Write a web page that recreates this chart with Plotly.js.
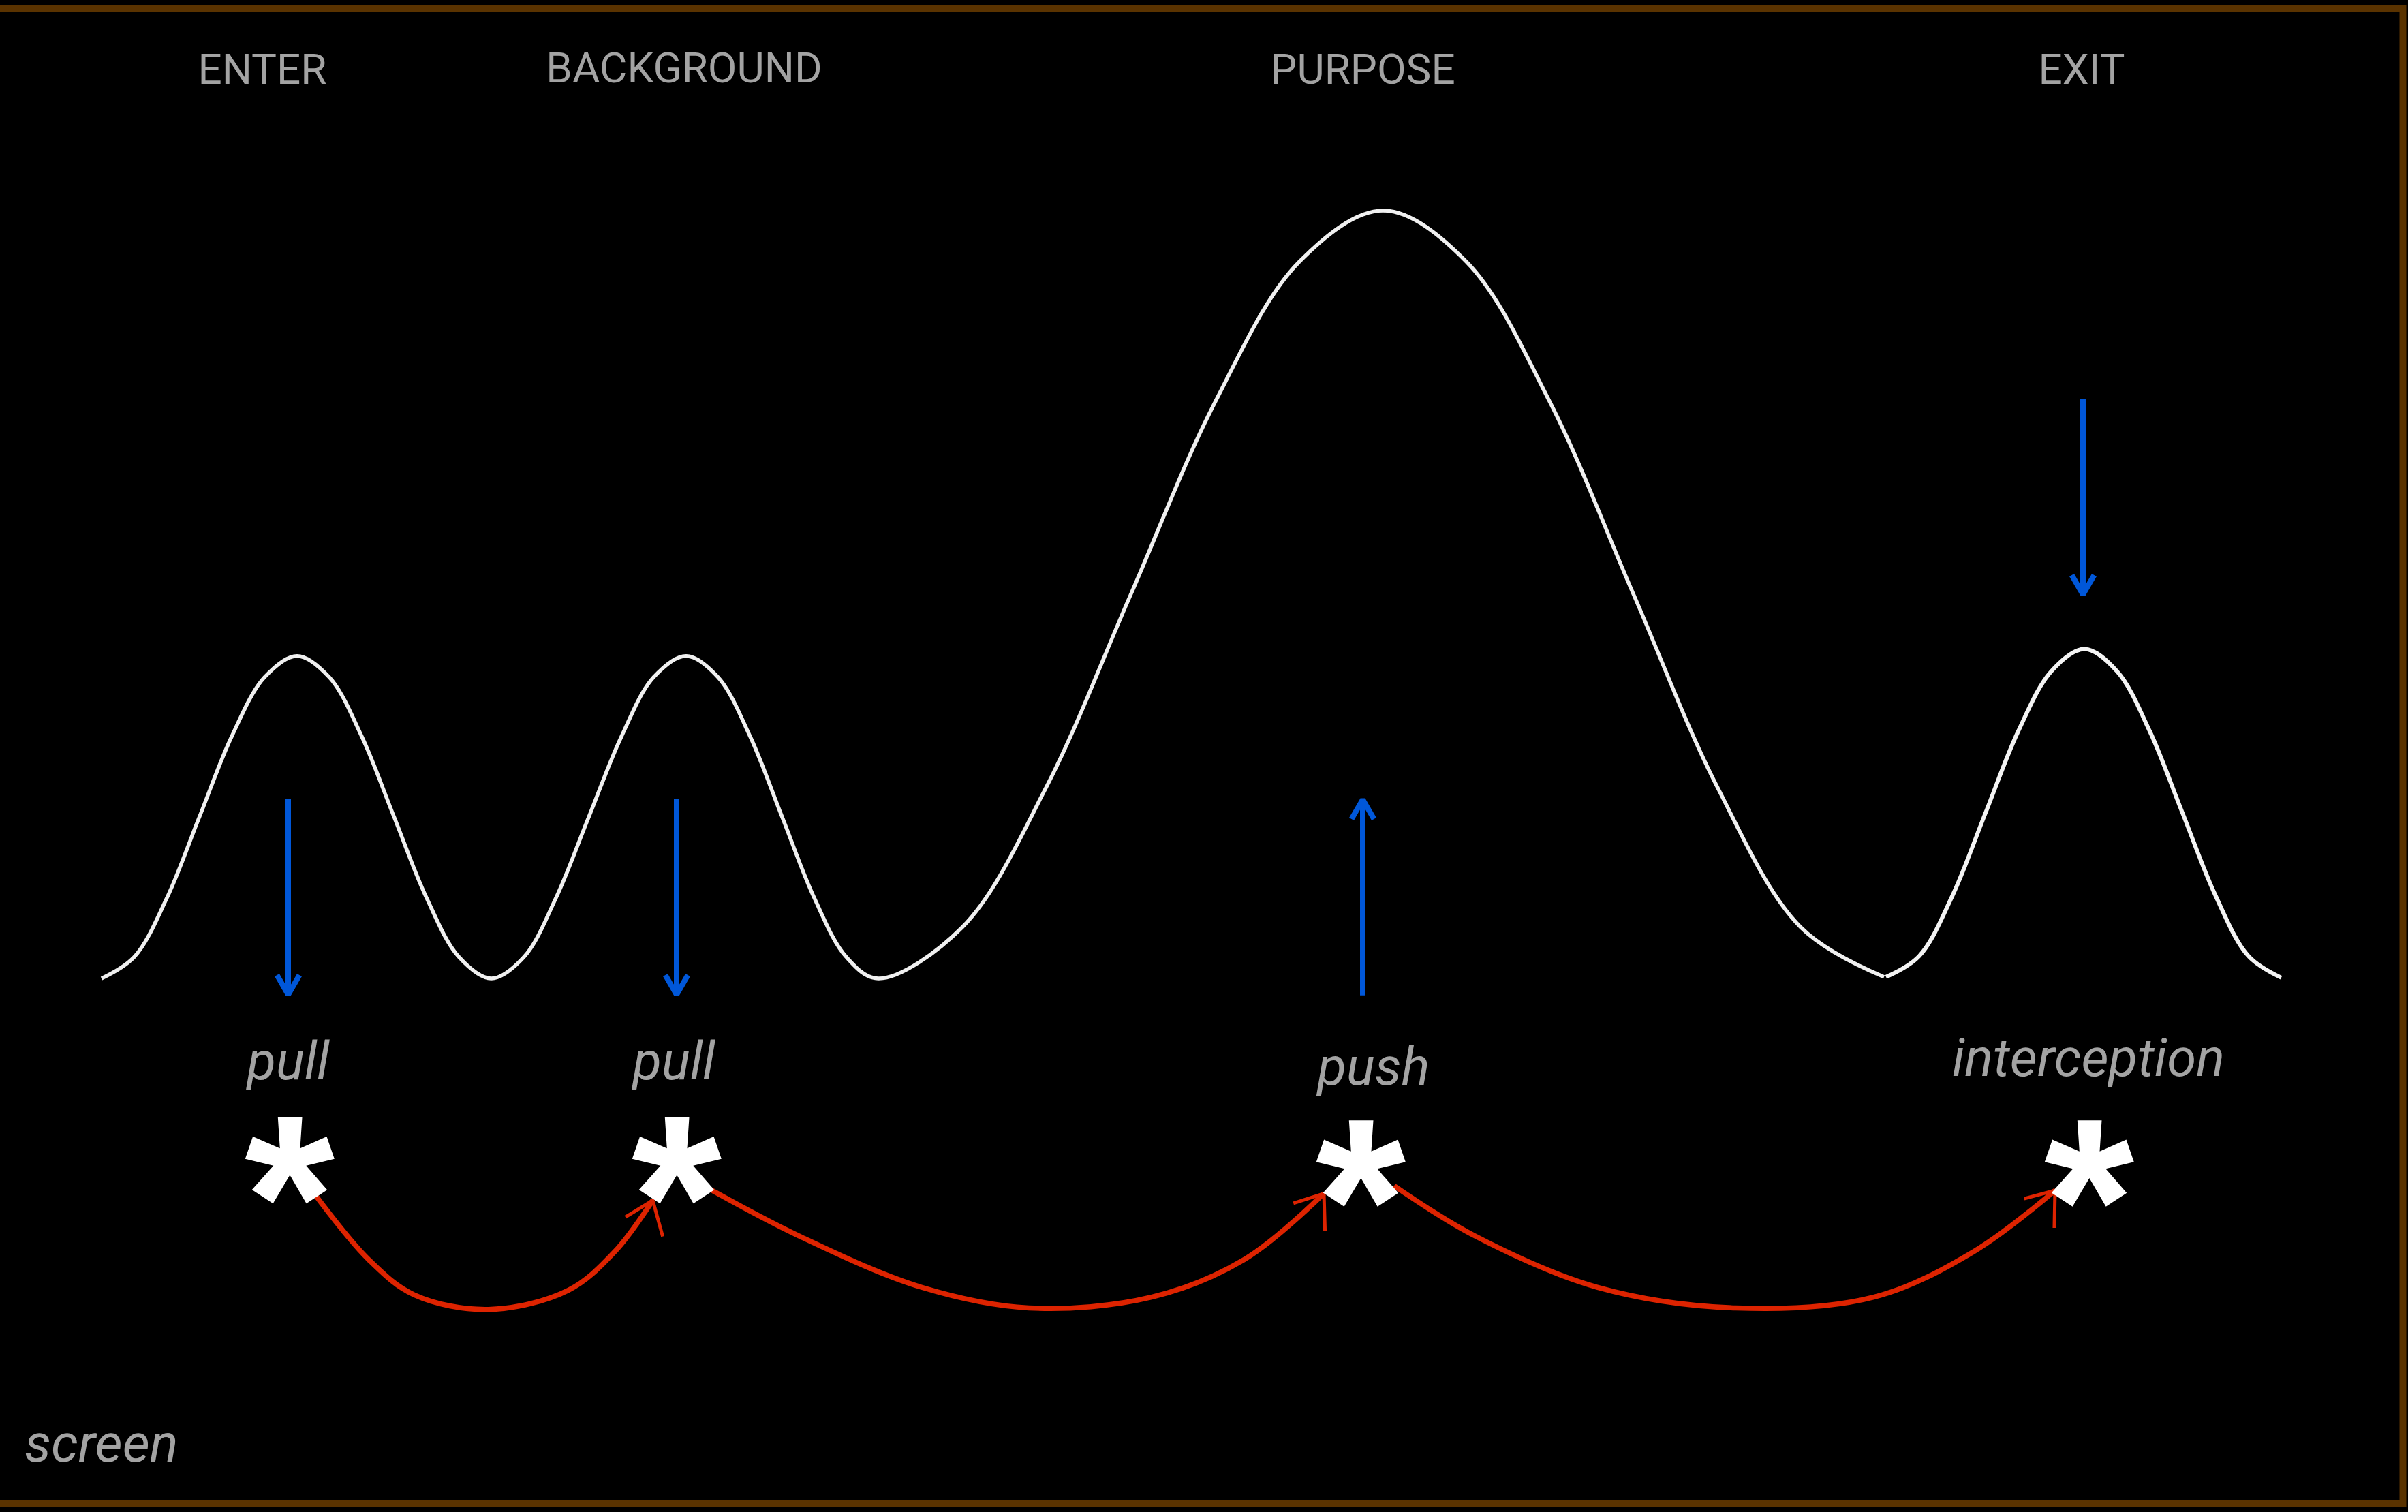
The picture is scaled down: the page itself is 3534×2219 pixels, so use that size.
<!DOCTYPE html>
<html><head><meta charset="utf-8">
<script src="https://cdn.plot.ly/plotly-3.0.1.min.js"></script>
<style>html,body{margin:0;padding:0;background:#000;overflow:hidden}</style>
</head><body><div id="chart" style="width:3534px;height:2219px"></div>
<script>
// ---- data (time units on x, attention level on y; baseline 0, big peak 100) ----
const waveX = [14.9, 19.7, 24.5, 29.25, 34.0, 38.8, 43.6, 48.35, 53.1, 57.85, 62.6, 67.35, 72.1,
  76.9, 81.6, 86.4, 91.2, 95.9, 100.7, 105.4, 110.1, 114.8, 119.5, 124.2, 128.9,
  141.25, 153.6, 165.95, 178.3, 190.65, 203.0, 215.25, 227.5, 239.75, 252.0, 264.25, 276.5];
const waveY = [0, 2.8, 10.5, 21.0, 31.5, 39.2, 42.0, 39.2, 31.5, 21.0, 10.5, 2.8, 0,
  2.8, 10.5, 21.0, 31.5, 39.2, 42.0, 39.2, 31.5, 21.0, 10.5, 2.8, 0,
  6.7, 25, 50, 75, 93.3, 100, 93.3, 75, 50, 25, 6.7, 0.2];
const exitWaveX = [276.8, 281.65, 286.5, 291.35, 296.2, 301.05, 305.9, 310.7, 315.5, 320.35, 325.2, 330.0, 334.8];
const exitWaveY = [0.2, 2.9, 10.7, 21.45, 32.2, 40.0, 42.9, 40.0, 32.2, 21.45, 10.7, 2.9, 0.1];

const phaseLabels = ['ENTER', 'BACKGROUND', 'PURPOSE', 'EXIT'];
const phaseX = [38.5, 100.4, 200.0, 305.5];
const phaseY = [117.9, 118.1, 117.9, 117.9];

const forceLabels = ['pull', 'pull', 'push', 'interception'];
const forceX = [42.3, 98.9, 201.6, 306.5];
const forceY = [-11.4, -11.4, -12.1, -11.0];

const starX = [42.5, 99.3, 199.7, 306.6];
const starY = [-31.3, -31.3, -31.7, -31.7];

const arrowX = [42.3, 99.3, 200.0, 305.7];
const arrowFrom = [23.4, 23.4, -2.2, 75.5];
const arrowTo = [-2.1, -2.1, 23.3, 50.0];

const arc1X = [46.2, 54.1, 60.8, 71.7, 83.4, 90.2, 95.8];
const arc1Y = [-28.1, -36.6, -41.2, -43.1, -40.6, -35.6, -28.9];
const arc2X = [104.1, 117.2, 135.2, 151.0, 169.0, 182.6, 194.3];
const arc2Y = [-27.4, -33.5, -40.2, -42.9, -41.5, -36.6, -28.0];
const arc3X = [204.6, 216.4, 234.4, 254.7, 275.0, 289.6, 301.6];
const arc3Y = [-27.0, -33.5, -40.2, -42.9, -41.5, -35.6, -27.6];

const cornerLabel = ['screen'];
const cornerX = [3.6];
const cornerY = [-61.2];

// ---- layout constants ----
const W = 3534, H = 2219;
const XR = [0, 353.4], YR = [-69.48, 127.42];
const pxX = x => (x - XR[0]) / (XR[1] - XR[0]) * W;
const pxY = y => (YR[1] - y) / (YR[1] - YR[0]) * H;
const dX = p => XR[0] + p / W * (XR[1] - XR[0]);
const dY = p => YR[1] - p / H * (YR[1] - YR[0]);

function chevron(tx, ty, fx, fy, lenA, angA, lenB, angB) {
  const TX = pxX(tx), TY = pxY(ty);
  let bx = pxX(fx) - TX, by = pxY(fy) - TY;
  const n = Math.hypot(bx, by); bx /= n; by /= n;
  const rot = (len, a) => {
    const r = a * Math.PI / 180, c = Math.cos(r), s = Math.sin(r);
    return [TX + len * (bx * c - by * s), TY + len * (bx * s + by * c)];
  };
  const p1 = rot(lenA, angA), p2 = rot(lenB, angB);
  return { x: [dX(p1[0]), tx, dX(p2[0])], y: [dY(p1[1]), ty, dY(p2[1])] };
}

const GRAY = '#a3a3a3', BLUE = '#0057d9', RED = '#dd2300';
const traces = [];

traces.push({ x: waveX, y: waveY, mode: 'lines', line: { color: '#f0f0f0', width: 5.5, shape: 'spline', smoothing: 1 }, hoverinfo: 'skip' });
traces.push({ x: exitWaveX, y: exitWaveY, mode: 'lines', line: { color: '#f4f4f4', width: 6, shape: 'spline', smoothing: 1 }, hoverinfo: 'skip' });

// blue arrows
arrowX.forEach((x, i) => {
  traces.push({ x: [x, x], y: [arrowFrom[i], arrowTo[i]], mode: 'lines', line: { color: BLUE, width: 8 }, hoverinfo: 'skip' });
  const c = chevron(x, arrowTo[i], x, arrowFrom[i], 33, 30, 33, -30);
  traces.push({ x: c.x, y: c.y, mode: 'lines', line: { color: BLUE, width: 8 }, hoverinfo: 'skip' });
});

// red arcs
[[arc1X, arc1Y], [arc2X, arc2Y], [arc3X, arc3Y]].forEach(([ax, ay]) => {
  traces.push({ x: ax, y: ay, mode: 'lines', line: { color: RED, width: 7.5, shape: 'spline' }, hoverinfo: 'skip' });
  const n = ax.length;
  const c = chevron(ax[n - 1], ay[n - 1], ax[n - 2], ay[n - 2], 47, 22, 55, -52);
  traces.push({ x: c.x, y: c.y, mode: 'lines', line: { color: RED, width: 5 }, hoverinfo: 'skip' });
});

// asterisks
traces.push({ x: starX, y: starY, mode: 'text', text: starX.map(() => '*'), textposition: 'middle center',
  textfont: { family: 'Liberation Sans, Arial, sans-serif', size: 340, color: '#ffffff', weight: 'bold' }, hoverinfo: 'skip' });

// labels
traces.push({ x: phaseX, y: phaseY, mode: 'text', text: phaseLabels, textposition: 'middle center',
  textfont: { family: 'Roboto, sans-serif', size: 62, color: GRAY, weight: 400 }, hoverinfo: 'skip' });
traces.push({ x: forceX, y: forceY, mode: 'text', text: forceLabels, textposition: 'middle center',
  textfont: { family: 'Roboto, sans-serif', size: 78, color: GRAY, style: 'italic', weight: 400 }, hoverinfo: 'skip' });
traces.push({ x: cornerX, y: cornerY, mode: 'text', text: cornerLabel, textposition: 'middle right',
  textfont: { family: 'Roboto, sans-serif', size: 78, color: GRAY, style: 'italic', weight: 400 }, hoverinfo: 'skip' });

const axis = { visible: false, showgrid: false, zeroline: false, fixedrange: true };
const layout = {
  width: W, height: H,
  margin: { l: 0, r: 0, t: 0, b: 0, pad: 0 },
  paper_bgcolor: '#000000', plot_bgcolor: '#000000',
  showlegend: false,
  xaxis: Object.assign({ range: XR }, axis),
  yaxis: Object.assign({ range: YR }, axis),
  shapes: [{ type: 'rect', xref: 'paper', yref: 'paper', x0: -0.01, x1: 3526.5 / W, y0: 12 / H, y1: 1 - 12 / H,
    line: { color: '#5a3300', width: 10 }, fillcolor: 'rgba(0,0,0,0)', layer: 'above' }]
};
Plotly.newPlot('chart', traces, layout, { staticPlot: true, displayModeBar: false });
</script></body></html>
